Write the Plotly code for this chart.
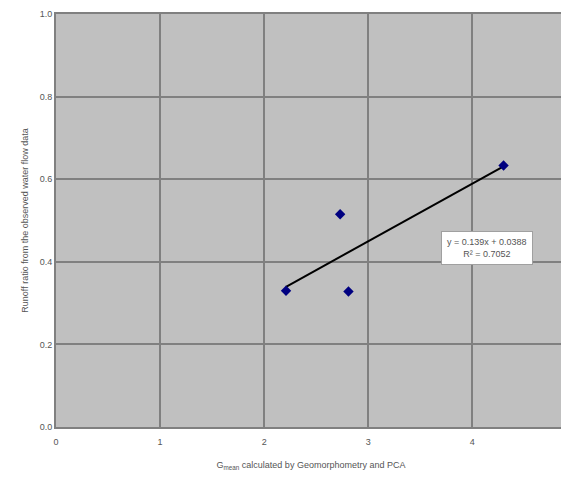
import plotly.graph_objects as go
import numpy as np

g_values = [2.21, 2.73, 2.81, 4.30]
runoff_ratio = [0.330, 0.515, 0.328, 0.633]
x_ticks = [0, 1, 2, 3, 4, 5]
y_ticks = [0.0, 0.2, 0.4, 0.6, 0.8, 1.0]
trend_text = "y = 0.139x + 0.0388<br>R² = 0.7052"
x_max = 4.9

slope, intercept = np.polyfit(g_values, runoff_ratio, 1)
tx = [min(g_values), max(g_values)]
ty = [slope * v + intercept for v in tx]

fig = go.Figure()
fig.add_trace(go.Scatter(x=tx, y=ty, mode="lines",
                         line=dict(color="black", width=2), showlegend=False))
fig.add_trace(go.Scatter(x=g_values, y=runoff_ratio, mode="markers",
                         marker=dict(symbol="diamond", size=8, color="#000080"),
                         showlegend=False))

font = dict(family="Liberation Sans, Arial, sans-serif", size=9, color="#555555")
fig.update_layout(
    width=561, height=469,
    margin=dict(l=48, r=3, t=6, b=50),
    paper_bgcolor="white", plot_bgcolor="#c0c0c0",
    font=font,
    xaxis=dict(range=[0, x_max], tickvals=x_ticks, ticktext=[str(v) for v in x_ticks],
               showgrid=True, gridcolor="#808080", gridwidth=1.5, automargin=False,
               zeroline=False, showline=True, linecolor="#808080", linewidth=2,
               mirror=True, ticks="", ticklen=0, ticklabelstandoff=5,
               title=dict(text="G<sub>mean</sub> calculated by Geomorphometry and PCA",
                          font=font, standoff=16)),
    yaxis=dict(range=[0, 1.0], tickvals=y_ticks, ticktext=[f"{v:.1f}" for v in y_ticks],
               showgrid=True, gridcolor="#808080", gridwidth=1.5, automargin=False,
               zeroline=False, showline=True, linecolor="#808080", linewidth=2,
               mirror=True, ticks="", ticklen=0,
               title=dict(text="Runoff ratio from the observed water flow data",
                          font=font, standoff=10)),
    annotations=[
        dict(x=4.14, y=0.433, xref="x", yref="y", text=trend_text, showarrow=False,
             font=dict(family="Liberation Sans, Arial, sans-serif", size=9, color="#555555"),
             bgcolor="white", bordercolor="#a0a0a0", borderwidth=1, borderpad=5,
             align="center"),
        dict(x=x_ticks[-1] / x_max, y=0, xref="paper", yref="paper", yshift=-17,
             text=str(x_ticks[-1]), showarrow=False, font=font),
    ],
)
fig.write_html("out.html")
